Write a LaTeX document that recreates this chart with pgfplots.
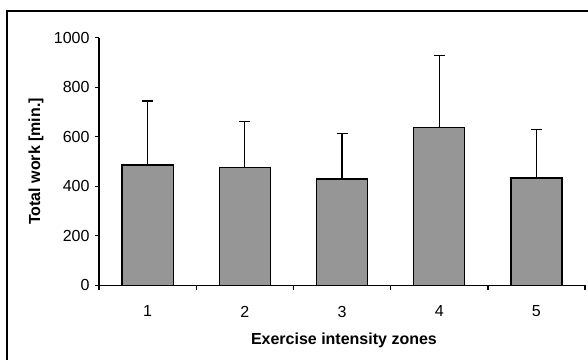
\documentclass[border=0pt]{standalone}
\usepackage{pgfplots}
\pgfplotsset{compat=1.18}
\usepackage{fontspec}
\setmainfont{Liberation Sans}
\definecolor{bargray}{RGB}{150,150,150}
\begin{document}
\fontsize{16}{19}\selectfont
\begin{tikzpicture}
\useasboundingbox (-99pt,-73.7pt) rectangle (489pt,285.3pt);
\draw[line width=2pt] (-92pt,-90pt) -- (-92pt,274.3pt) -- (500pt,274.3pt);
\begin{axis}[
  at={(0,0)}, anchor=south west,
  scale only axis,
  width=486pt, height=247.6pt,
  xmin=0.5, xmax=5.5, ymin=0, ymax=1000,
  enlargelimits=false,
  axis lines=left,
  axis line style={-, line width=1.4pt},
  ybar, bar width=51pt,
  xtick={1,2,3,4,5},
  xticklabels={1,2,3,4,5},
  minor xtick={0.5,1.5,2.5,3.5,4.5,5.5},
  major x tick style={draw=none},
  ytick={0,200,400,600,800,1000},
  tick align=outside,
  major tick length=4pt,
  minor tick length=5pt,
  tick style={line width=1.4pt, black},
  /pgf/number format/assume math mode=true,
  /pgf/number format/1000 sep={},
  ticklabel style={font=\fontsize{16}{19}\selectfont},
  xticklabel style={yshift=-11pt},
  xlabel={\textbf{Exercise intensity zones}},
  ylabel={\textbf{Total work [min.]}},
  xlabel style={at={(axis description cs:0.504,-0.2371)}, anchor=base, font=\fontsize{16}{19}\selectfont},
  ylabel style={at={(axis description cs:-0.1296,0.5)}, anchor=center, font=\fontsize{16}{19}\selectfont},
]
\addplot[fill=bargray, draw=black, line width=1.2pt,
  error bars/.cd, y dir=plus, y explicit,
  error bar style={line width=1.3pt, black},
  error mark options={rotate=90, mark size=5.5pt, line width=1.3pt, black}]
  coordinates {
  (1,486) +- (0,258)
  (2,475) +- (0,186)
  (3,429) +- (0,185)
  (4,636) +- (0,293)
  (5,433) +- (0,197)
  };
\end{axis}
\end{tikzpicture}
\end{document}
